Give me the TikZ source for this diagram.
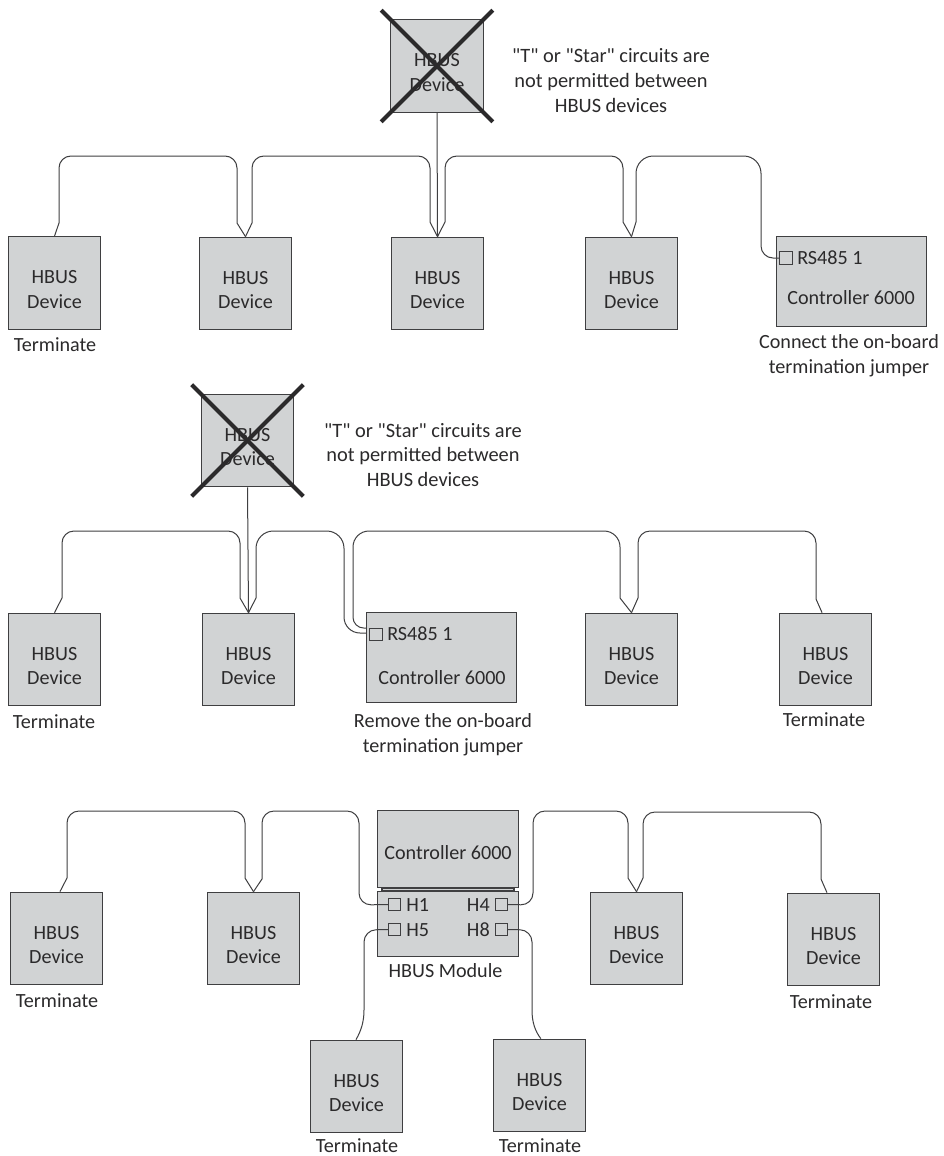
\documentclass[tikz,border=0pt]{standalone}
\usepackage{fontspec}
\newfontfamily\carlitoplain{Carlito}
\usetikzlibrary{calc}
\definecolor{edge}{HTML}{3F3F41}
\definecolor{boxfill}{HTML}{D1D3D4}
\definecolor{ink}{HTML}{2B2A2B}
\newcommand{\lbl}{\carlitoplain\fontsize{15.1}{18.6}\selectfont}
\newcommand{\hbusdev}{\rule{0pt}{19.5pt}HBUS\\Device}
\tikzset{
  x=0.75pt,y=-0.75pt,
  device/.style={draw=edge,fill=boxfill,line width=0.8pt,minimum width=69.5pt,minimum height=69.5pt,inner sep=0pt,align=center,text=ink,font=\lbl},
  panel/.style={draw=edge,fill=boxfill,line width=0.8pt,inner sep=0pt},
  port/.style={draw=edge,fill=boxfill,line width=0.6pt,minimum width=9.2pt,minimum height=9.2pt,inner sep=0pt},
  caption/.style={inner sep=0pt,text=ink,font=\lbl,text height=9.7pt,text depth=0pt},
  note/.style={inner sep=0pt,text=ink,font=\carlitoplain\fontsize{15.3}{18.6}\selectfont,align=center},
  wire/.style={draw=edge,line width=0.75pt},
  cross/.style={draw=ink,line width=3pt},
}
\begin{document}
\begin{tikzpicture}
\useasboundingbox[fill=white] (0,0) rectangle (944,1156);

% ---------- Row 1
\node[device] (top1) at (437,66) {\hbusdev};
\node[device] (a1) at (54.5,283) {\hbusdev};
\node[device] (a2) at (245.5,283.5) {\hbusdev};
\node[device] (a3) at (437.5,283.5) {\hbusdev};
\node[device] (a4) at (631.5,283.5) {\hbusdev};
\node[panel,minimum width=112.5pt,minimum height=67.5pt] (c1) at (851.5,281.5) {};
\node[port] (c1p) at (786,258) {};
\node[caption,anchor=west] (c1r) at (797,258) {RS485 1};
\node[caption] (c1t) at (851,298) {Controller 6000};
\node[caption] (c1n1) at (849,342) {Connect the on-board};
\node[caption] (c1n2) at (849,367) {termination jumper};
\node[caption] (a1t) at (55,345) {Terminate};
\node[note] (n1) at (611,80.5) {"T" or "Star" circuits are\\not permitted between\\HBUS devices};

\draw[wire] (a1.north) -- (59,223) [rounded corners=9pt] -- (59,156) -- (237,156) [sharp corners] -- (237,223) -- (a2.north);
\draw[wire] (a2.north) -- (252,223) [rounded corners=9pt] -- (252,156) -- (430,156) [sharp corners] -- (430,222) -- (a3.north);
\draw[wire] (a3.north) -- (445,222) [rounded corners=9pt] -- (445,156) -- (623,156) [sharp corners] -- (623,222) -- (a4.north);
\draw[wire] (a4.north) -- (636,222) [rounded corners=13pt] -- (636,156) -- (761,156) [rounded corners=9pt] -- (761,258) [sharp corners] -- (c1p.west);
\draw[wire] (top1.south) -- (a3.north);
\draw[cross] ($(top1.north west)+(-9,-9)$) -- ($(top1.south east)+(9,9)$);
\draw[cross] ($(top1.north east)+(9,-9)$) -- ($(top1.south west)+(-9,9)$);

% ---------- Row 2
\node[device] (top2) at (247.5,440.5) {\hbusdev};
\node[device] (b1) at (54.5,659.5) {\hbusdev};
\node[device] (b2) at (248.5,659.5) {\hbusdev};
\node[device] (b3) at (631.5,659.5) {\hbusdev};
\node[device] (b4) at (825.5,659.5) {\hbusdev};
\node[panel,minimum width=112.5pt,minimum height=67.5pt] (c2) at (441.5,657.5) {};
\node[port] (c2p) at (376,634.5) {};
\node[caption,anchor=west] (c2r) at (387,634) {RS485 1};
\node[caption] (c2t) at (442,678) {Controller 6000};
\node[caption] (c2n1) at (443,721) {Remove the on-board};
\node[caption] (c2n2) at (443,746) {termination jumper};
\node[caption] (b1t) at (54,722) {Terminate};
\node[caption] (b4t) at (824,720) {Terminate};
\node[note] (n2) at (423,455) {"T" or "Star" circuits are\\not permitted between\\HBUS devices};

\draw[wire] (b1.north) -- (62,598) [rounded corners=9pt] -- (62,531) -- (240,531) [sharp corners] -- (240,598) -- (b2.north);
\draw[wire] (b2.north) -- (256,598) [rounded corners=13pt] -- (256,531) -- (344,531) [rounded corners=12pt] -- (344,633) [sharp corners] -- (c2.west |- 0,633);
\draw[wire] (c2.west |- 0,628) [rounded corners=8pt] -- (353,628) [rounded corners=12pt] -- (353,531) -- (620,531) [sharp corners] -- (620,598) -- (b3.north);
\draw[wire] (b3.north) -- (638,598) [rounded corners=9pt] -- (638,531) -- (816,531) [sharp corners] -- (816,599) -- ([xshift=-2.6pt]b4.north);
\draw[wire] (top2.south) -- (b2.north);
\draw[cross] ($(top2.north west)+(-9,-9)$) -- ($(top2.south east)+(9,9)$);
\draw[cross] ($(top2.north east)+(9,-9)$) -- ($(top2.south west)+(-9,9)$);

% ---------- Row 3
\node[device] (d1) at (56.5,938.5) {\hbusdev};
\node[device] (d2) at (253.5,938.5) {\hbusdev};
\node[device] (d3) at (636.5,938.5) {\hbusdev};
\node[device] (d4) at (833.5,939.5) {\hbusdev};
\node[device] (d5) at (356.5,1086.5) {\hbusdev};
\node[device] (d6) at (539.5,1085.5) {\hbusdev};
\node[panel,minimum width=99pt,minimum height=2.2pt] (bar) at (448,889.5) {};
\node[panel,minimum width=105.75pt,minimum height=57.75pt] (c3) at (448,849) {};
\node[panel,minimum width=105.75pt,minimum height=48.75pt] (m) at (448,924) {};
\node[caption] (c3t) at (448,853) {Controller 6000};
\node[caption] (mt) at (445.5,971) {HBUS Module};
\node[port] (h1) at (394.5,904.5) {};
\node[port] (h5) at (394.5,929.5) {};
\node[port] (h4) at (501.5,904.5) {};
\node[port] (h8) at (501.5,929.5) {};
\node[caption,anchor=west] (h1t) at (406,905) {H1};
\node[caption,anchor=west] (h5t) at (406,930) {H5};
\node[caption,anchor=east] (h4t) at (490,905) {H4};
\node[caption,anchor=east] (h8t) at (490,930) {H8};
\node[caption] (d1t) at (57,1001) {Terminate};
\node[caption] (d4t) at (831,1002) {Terminate};
\node[caption] (d5t) at (357,1146.5) {Terminate};
\node[caption] (d6t) at (540,1146.5) {Terminate};

\draw[wire] ([xshift=2.6pt]d1.north) -- (67,878) [rounded corners=9pt] -- (67,811) -- (245,811) [sharp corners] -- (245,878) -- (d2.north);
\draw[wire] (d2.north) -- (262,879) [rounded corners=9pt] -- (262,811) -- (359,811) -- (359,905) [sharp corners] -- (h1.west);
\draw[wire] (h4.east) [rounded corners=9pt] -- (533,905) -- (533,811) -- (628,811) [sharp corners] -- (628,878) -- (d3.north);
\draw[wire] (d3.north) -- (643,878) [rounded corners=9pt] -- (643,812) -- (821,812) [sharp corners] -- (821,879) -- ([xshift=-4.9pt]d4.north);
\draw[wire] (h5.west) [rounded corners=9pt] -- (364,930) [sharp corners] -- (364,1010) .. controls (364,1022) and (361,1031) .. ([xshift=-0.4pt]d5.north);
\draw[wire] (h8.east) [rounded corners=9pt] -- (532,930) [sharp corners] -- (532,1010) .. controls (532,1022) and (535,1031) .. ([xshift=1pt]d6.north);
\end{tikzpicture}
\end{document}
